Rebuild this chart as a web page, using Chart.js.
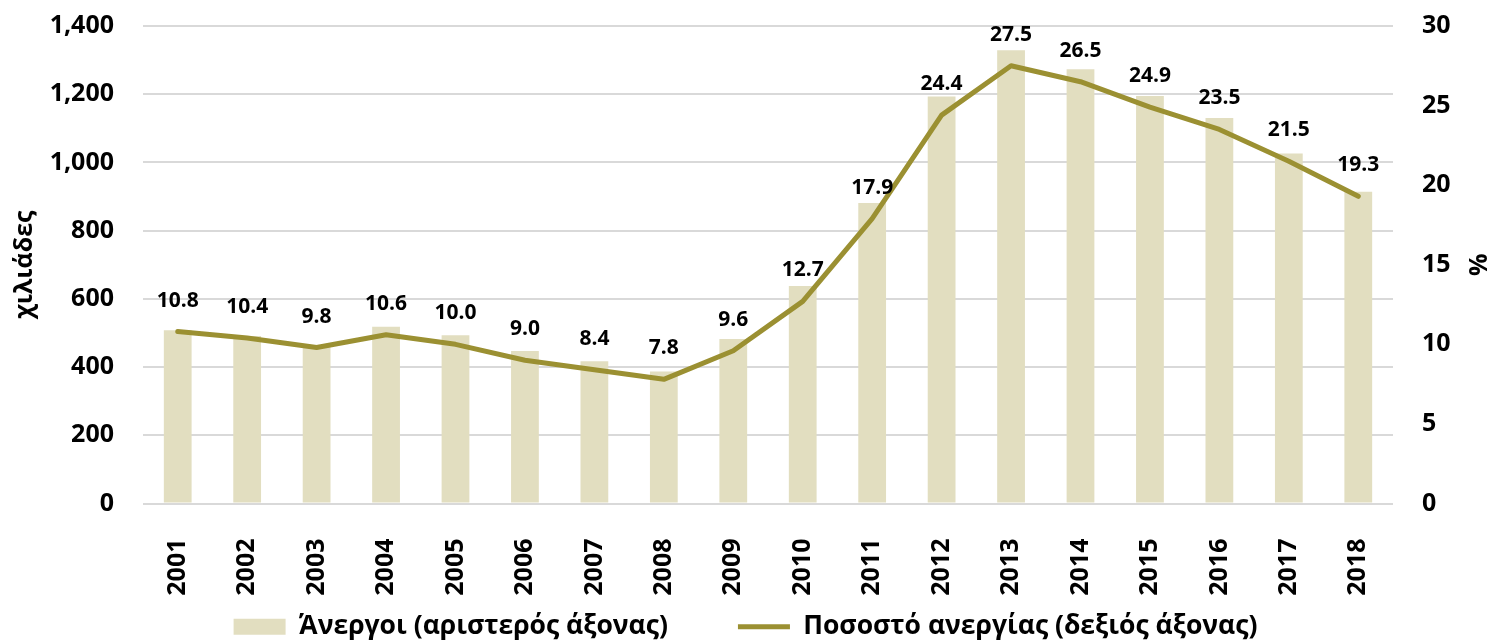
<!DOCTYPE html>
<html>
<head>
<meta charset="utf-8">
<script src="https://cdn.jsdelivr.net/npm/chart.js@4.4.1/dist/chart.umd.min.js"></script>
<style>
  html, body { margin: 0; padding: 0; background: #ffffff; }
  #wrap { width: 1491px; height: 642px; }
</style>
</head>
<body>
<div id="wrap"><canvas id="c" width="1491" height="642"></canvas></div>
<script>
// ---- data ----
const years = ['2001','2002','2003','2004','2005','2006','2007','2008','2009','2010','2011','2012','2013','2014','2015','2016','2017','2018'];
const unemployed = [508, 491, 463, 518, 493, 447, 417, 387, 482, 638, 881, 1193, 1329, 1273, 1195, 1130, 1026, 914];
const unemploymentRate = [10.8, 10.4, 9.8, 10.6, 10.0, 9.0, 8.4, 7.8, 9.6, 12.7, 17.9, 24.4, 27.5, 26.5, 24.9, 23.5, 21.5, 19.3];
const leftTicks = [0, 200, 400, 600, 800, 1000, 1200, 1400];
const rightTicks = [0, 5, 10, 15, 20, 25, 30];
const barLabel = 'Άνεργοι (αριστερός άξονας)';
const lineLabel = 'Ποσοστό ανεργίας (δεξιός άξονας)';
const leftTitle = 'χιλιάδες';
const rightTitle = '%';

const FONT = "'Open Sans', 'DejaVu Sans', sans-serif";
const barColor = '#e2dec0';
const lineColor = '#9b9032';
const gridColor = '#d9d9d9';

const lineLabelsPlugin = {
  id: 'lineLabels',
  afterDatasetsDraw(chart) {
    const meta = chart.getDatasetMeta(0);
    const ctx = chart.ctx;
    ctx.save();
    ctx.font = "bold 21px " + FONT;
    ctx.fillStyle = '#000000';
    ctx.textAlign = 'center';
    ctx.textBaseline = 'middle';
    meta.data.forEach((pt, i) => {
      ctx.fillText(unemploymentRate[i].toFixed(1), pt.x, pt.y - 31);
    });
    ctx.restore();
  }
};

// let the rotated year labels extend below the (short) x-axis box
const labelRoomPlugin = {
  id: 'labelRoom',
  afterLayout(chart) {
    chart.scales.x.bottom = chart.height;
  }
};

function zeroPad(scale) {
  scale.paddingTop = 0;
  scale.paddingBottom = 0;
  scale.paddingLeft = 0;
  scale.paddingRight = 0;
}

Chart.defaults.font.family = FONT;
Chart.defaults.font.weight = 'bold';
Chart.defaults.color = '#000000';

new Chart(document.getElementById('c'), {
  type: 'bar',
  data: {
    labels: years,
    datasets: [
      {
        type: 'line',
        label: lineLabel,
        data: unemploymentRate,
        yAxisID: 'yRight',
        borderColor: lineColor,
        backgroundColor: lineColor,
        borderWidth: 5,
        pointRadius: 0,
        pointHoverRadius: 0,
        pointStyle: 'line',
        tension: 0,
        borderJoinStyle: 'round',
        borderCapStyle: 'round',
        fill: false
      },
      {
        type: 'bar',
        label: barLabel,
        data: unemployed,
        yAxisID: 'yLeft',
        backgroundColor: barColor,
        borderWidth: 0,
        pointStyle: 'rect',
        categoryPercentage: 1.0,
        barPercentage: 0.4
      }
    ]
  },
  options: {
    responsive: false,
    animation: false,
    devicePixelRatio: 1,
    layout: { padding: { top: 26, left: 0, right: 0, bottom: -8 } },
    plugins: {
      tooltip: { enabled: false },
      legend: {
        position: 'bottom',
        labels: {
          usePointStyle: true,
          pointStyleWidth: 52,
          boxHeight: 16,
          padding: 70,
          font: { size: 26.5, weight: 'bold', family: FONT },
          color: '#000000',
          sort: (a, b) => b.datasetIndex - a.datasetIndex
        }
      }
    },
    scales: {
      x: {
        offset: true,
        grid: { display: false },
        border: { display: false },
        ticks: {
          minRotation: 90,
          maxRotation: 90,
          padding: 27,
          autoSkip: false,
          font: { size: 25, weight: 'bold' },
          color: '#000000'
        },
        afterFit(scale) { scale.height = 40; zeroPad(scale); }
      },
      yLeft: {
        position: 'left',
        min: 0,
        max: 1400,
        afterBuildTicks(scale) { scale.ticks = leftTicks.map(v => ({ value: v })); },
        grid: { color: gridColor, lineWidth: 2, drawTicks: false },
        border: { display: false },
        ticks: {
          padding: 29,
          font: { size: 25, weight: 'bold' },
          color: '#000000',
          callback: (v) => Number(v).toLocaleString('en-US')
        },
        title: {
          display: true,
          text: leftTitle,
          font: { size: 25, weight: 'bold' },
          color: '#000000',
          padding: { top: 10, bottom: 0 }
        },
        afterFit(scale) { scale.width = 143; zeroPad(scale); }
      },
      yRight: {
        position: 'right',
        min: 0,
        max: 30,
        afterBuildTicks(scale) { scale.ticks = rightTicks.map(v => ({ value: v })); },
        grid: { drawOnChartArea: false, drawTicks: false },
        border: { display: false },
        ticks: {
          padding: 29,
          font: { size: 25, weight: 'bold' },
          color: '#000000'
        },
        title: {
          display: true,
          text: rightTitle,
          font: { size: 25, weight: 'bold' },
          color: '#000000',
          padding: { top: 0, bottom: 0 }
        },
        afterFit(scale) { scale.width = 98; zeroPad(scale); }
      }
    }
  },
  plugins: [lineLabelsPlugin, labelRoomPlugin]
});
</script>
</body>
</html>
